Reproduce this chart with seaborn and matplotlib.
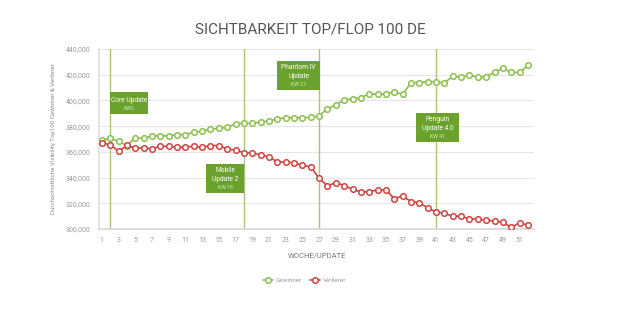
import matplotlib
matplotlib.use("Agg")
import matplotlib.pyplot as plt
import seaborn as sns
import pandas as pd
from matplotlib.lines import Line2D
from matplotlib.patches import Rectangle
from matplotlib.ticker import FuncFormatter

weeks = list(range(1, 53))
gewinner = [369.1, 370.4, 368.1, 364.9, 370.9, 370.6, 372.2, 372.7, 372.2, 373.5,
            373.2, 375.3, 376.1, 377.4, 378.4, 379.2, 381.8, 382.1, 382.1, 383.4,
            383.9, 385.7, 386.5, 386.5, 386.5, 386.8, 388.1, 393.5, 396.6, 400.3,
            401.3, 402.1, 405.2, 404.7, 405.2, 406.5, 404.7, 413.8, 413.8, 414.5,
            414.5, 413.5, 419.0, 417.9, 419.7, 417.9, 418.4, 422.1, 424.9, 421.8,
            421.8, 427.3]
verlierer = [367.0, 365.5, 360.5, 365.0, 362.9, 363.1, 362.3, 364.4, 364.2, 363.6,
             363.9, 364.2, 363.6, 364.9, 364.9, 362.3, 361.3, 359.5, 359.0, 357.7,
             356.1, 352.2, 352.2, 351.4, 349.6, 348.3, 339.5, 333.5, 336.1, 333.8,
             330.9, 328.8, 329.1, 330.4, 330.4, 323.6, 325.7, 321.3, 320.5, 316.4,
             313.2, 312.2, 309.9, 310.1, 307.8, 307.8, 306.8, 306.2, 305.2, 301.3,
             304.9, 302.9]
update_weeks = [2, 18, 27, 41]
update_names = ["Core Update", "Mobile\nUpdate 2", "Phantom IV\nUpdate", "Penguin\nUpdate 4.0"]
update_kw = ["KW2", "KW 18", "KW 27", "KW 41"]
series_names = ["Gewinner", "Verlierer"]
colors = ["#8cbf4f", "#cc4540"]

# annotation box geometry (x0, x1 in weeks; y centre, height in values)
box_x0 = [2.0, 13.5, 22.0, 38.6]
box_x1 = [6.55, 18.0, 27.1, 43.75]
box_yc = [398000, 339300, 419400, 379000]
box_h = [17000, 22500, 22500, 22500]

sns.set_theme(style="white")
plt.rcParams['font.family'] = ['Roboto', 'DejaVu Sans']

df = pd.DataFrame({
    "Woche": weeks * 2,
    "Wert": [v * 1000 for v in gewinner] + [v * 1000 for v in verlierer],
    "Serie": [series_names[0]] * len(weeks) + [series_names[1]] * len(weeks),
})

fig = plt.figure(figsize=(6.2, 3.25), dpi=100)
ax = fig.add_axes([0.16, 0.2954, 0.701, 0.5538])

for uw in update_weeks:
    ax.axvline(uw, color="#a9c27e", lw=1.0, zorder=1)

sns.lineplot(data=df, x="Woche", y="Wert", hue="Serie", palette=colors,
             marker="o", markersize=4, markerfacecolor="white", markeredgewidth=1.1,
             linewidth=1.2, legend=False, ax=ax, zorder=3)
for line, c in zip(ax.lines[len(update_weeks):], colors):
    line.set_markeredgecolor(c)

ax.set_xlim(0.68, 52.7)
ax.set_ylim(300000, 440000)
ax.set_yticks(range(300000, 440001, 20000))
ax.yaxis.set_major_formatter(FuncFormatter(lambda v, p: f"{int(v):,}"))
ax.set_xticks(list(range(1, 52, 2)))
ax.tick_params(axis="both", labelsize=5, colors="#9a9a9a", length=0, pad=6)
ax.grid(axis="y", color="#e6e6e6", lw=0.8)
for s in ["top", "right"]:
    ax.spines[s].set_visible(False)
ax.spines["left"].set_color("#e0e0e0")
ax.spines["bottom"].set_color("#d8d8d8")
ax.set_xlabel("WOCHE/UPDATE", fontsize=5.5, color="#777777", labelpad=6)
ax.set_ylabel("Durchschnittliche Visibility Top100 Gewinner & Verlierer", fontsize=4.4,
              color="#8a8a8a", labelpad=7)

for x0, x1, yc, h, nm, kw in zip(box_x0, box_x1, box_yc, box_h, update_names, update_kw):
    ax.add_patch(Rectangle((x0, yc - h / 2), x1 - x0, h, fc="#6aa22d", ec="none", zorder=5))
    xc = (x0 + x1) / 2
    nl = nm.count("\n") + 1
    ax.text(xc, yc + h * 0.12, nm, ha="center", va="center", fontsize=4.8, color="white",
            linespacing=1.3, zorder=6)
    ax.text(xc, yc - h / 2 + h * (0.2 if nl > 1 else 0.27), kw, ha="center", va="center",
            fontsize=3.8, color="#d3e8b8", zorder=6)

fig.text(0.5, 0.91, "SICHTBARKEIT TOP/FLOP 100 DE", ha="center", va="center",
         fontsize=11, color="#555555")

handles = [Line2D([0], [0], color=c, lw=1.2, marker="o", markersize=4,
                  markerfacecolor="white", markeredgecolor=c, markeredgewidth=1.1)
           for c in colors]
fig.legend(handles, series_names, loc="center", bbox_to_anchor=(0.491, 0.138), ncol=2,
           frameon=False, fontsize=4.5, labelcolor="#999999", handlelength=1.6,
           handletextpad=0.4, columnspacing=1.4)

fig.savefig("out.png", dpi=100, facecolor="white")
